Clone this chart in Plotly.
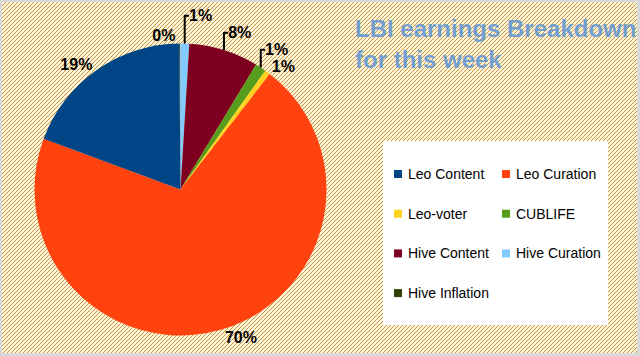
import base64
import plotly.graph_objects as go

# ---- data ----
labels = ["Leo Content", "Leo Curation", "Leo-voter", "CUBLIFE",
          "Hive Content", "Hive Curation", "Hive Inflation"]
values = [19.2, 70.2, 0.6, 1.2, 7.7, 1.0, 0.1]
colors = ["#004586", "#ff420e", "#ffd320", "#579d1c",
          "#7e0021", "#83caff", "#314004"]
title_text = "LBI earnings Breakdown<br>for this week"

W, H = 640, 356
BX, BY = 2, 2            # hatched area offset (thin grey frame round it)
BW, BH = W - 5, H - 5

# hatched background: cream with 1px brown "/" lines, 4px apart
svg = f'''<svg xmlns="http://www.w3.org/2000/svg" width="{BW}" height="{BH}" shape-rendering="crispEdges">
<defs><pattern id="p" width="4" height="4" patternUnits="userSpaceOnUse">
<rect width="4" height="4" fill="#fff6d8"/>
<rect x="3" y="0" width="1" height="1" fill="#c7924a"/>
<rect x="2" y="1" width="1" height="1" fill="#c7924a"/>
<rect x="1" y="2" width="1" height="1" fill="#c7924a"/>
<rect x="0" y="3" width="1" height="1" fill="#c7924a"/>
</pattern></defs>
<rect width="{BW}" height="{BH}" fill="url(#p)"/></svg>'''
bg_uri = "data:image/svg+xml;base64," + base64.b64encode(svg.encode()).decode()

cx, cy, r = 180.5, 189.5, 146

# slices go clockwise from 12 o'clock in reverse series order (as in the reference)
fig = go.Figure(go.Pie(
    labels=labels[::-1], values=values[::-1], sort=False, direction="clockwise",
    rotation=-0.5,
    marker=dict(colors=colors[::-1], line=dict(width=0)),
    textinfo="percent", texttemplate="%{percent:.0%}",
    textposition="outside",
    outsidetextfont=dict(family="Liberation Sans", size=16, color="#000000",
                         weight="bold"),
    showlegend=False,
    automargin=False,
    domain=dict(x=[(cx - r) / W, (cx + r) / W], y=[(H - cy - r) / H, (H - cy + r) / H]),
))

shapes = [dict(type="rect", xref="paper", yref="paper",
               x0=383 / W, x1=608 / W, y0=1 - 325 / H, y1=1 - 141 / H,
               fillcolor="#ffffff", line=dict(width=0), layer="below")]
annotations = []
for i, (lab, col) in enumerate(zip(labels, colors)):
    c, row = i % 2, i // 2
    sx = 394 + c * 108
    sy = 174 + row * 39.7
    shapes.append(dict(type="rect", xref="paper", yref="paper",
                       x0=sx / W, x1=(sx + 8) / W, y0=1 - (sy + 4) / H, y1=1 - (sy - 4) / H,
                       fillcolor=col, line=dict(width=0)))
    annotations.append(dict(text=lab, xref="paper", yref="paper",
                            x=(sx + 12) / W, y=1 - sy / H, xanchor="left", yanchor="middle",
                            showarrow=False,
                            font=dict(family="Liberation Sans", size=14, color="#000000")))

annotations.append(dict(text=title_text, xref="paper", yref="paper",
                        x=353 / W, y=1 - 13 / H, xanchor="left", yanchor="top",
                        align="left", showarrow=False,
                        font=dict(family="Liberation Sans", size=24, color="#729fcf",
                                  weight="bold")))

fig.update_layout(
    width=W, height=H,
    margin=dict(l=0, r=0, t=0, b=0, autoexpand=False),
    paper_bgcolor="#d9d9d9",
    plot_bgcolor="rgba(0,0,0,0)",
    images=[dict(source=bg_uri, xref="paper", yref="paper", x=BX / W, y=1 - BY / H,
                 sizex=BW / W, sizey=BH / H, sizing="stretch",
                 xanchor="left", yanchor="top", layer="below")],
    shapes=shapes,
    annotations=annotations,
)

fig.write_html("out.html", config={"displayModeBar": False},
               post_script="document.body.style.margin='0';")
